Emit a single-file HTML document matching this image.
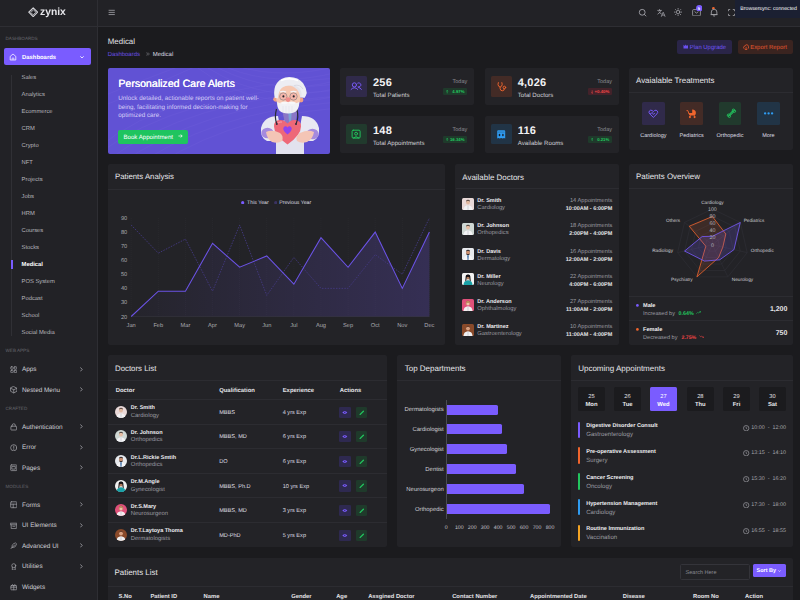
<!DOCTYPE html>
<html><head><meta charset="utf-8"><title>Zynix - Medical</title>
<style>
*{box-sizing:border-box;margin:0;padding:0}
html,body{width:800px;height:600px;overflow:hidden;background:#1b1b1e;font-family:"Liberation Sans",sans-serif;color:#e6e6ea}
.abs{position:absolute}
.t{position:absolute;white-space:nowrap;line-height:1;text-rendering:geometricPrecision}
</style></head>
<body>
<div class="abs" style="left:0.00px;top:0.00px;width:98.00px;height:600.00px;background:#222226;border-right:1px solid #2e2e33;"></div><div class="abs" style="left:0.00px;top:0.00px;width:97.00px;height:27.00px;background:#222226;border-bottom:1px solid #2e2e33;"></div><div class="abs" style="left:98.00px;top:0.00px;width:702.00px;height:27.00px;background:#222226;border-bottom:1px solid #2e2e33;"></div><svg class="abs" style="left:27.70px;top:7.20px;will-change:transform;" width="10.4" height="10.4" viewBox="0 0 12 12">
<g fill="none" stroke-linejoin="round">
<path d="M6 0.9 L11.1 6 L6 11.1 L0.9 6Z" stroke="#d6d6da" stroke-width="1.3"/>
<path d="M6 2.9 L9.1 6 L6 9.1 L2.9 6Z" stroke="#c4c4c8" stroke-width="1.0"/>
<path d="M3.6 3.6 L8.4 8.4 M8.4 3.6 L3.6 8.4" stroke="#9c9ca2" stroke-width="0.5"/>
</g>
<path d="M6 4.6 L7.4 6 L6 7.4 L4.6 6Z" fill="#141418"/>
</svg><div class="t" style="top:8px;font-size:10.3px;color:#e6e6ea;font-weight:700;left:40.30px;will-change:transform;">zynix</div><div class="t" style="top:37px;font-size:4.6px;color:#66666c;left:5.50px;">DASHBOARDS</div><div class="abs" style="left:4.00px;top:48.00px;width:87.00px;height:17.40px;background:#7a5cff;border-radius:2px;"></div><svg class="abs" style="left:9.10px;top:53.20px;" width="8" height="8" viewBox="0 0 8 8"><path d="M1.2 3.4 L4 1 L6.8 3.4 V7 H1.2 Z" fill="none" stroke="#fff" stroke-width="0.75" stroke-linejoin="round"/><path d="M3.2 7 V5 H4.8 V7" fill="none" stroke="#fff" stroke-width="0.6"/></svg><div class="t" style="top:56px;font-size:5.9px;color:#ffffff;font-weight:700;left:22.00px;">Dashboards</div><svg class="abs" style="left:80.00px;top:55.80px;" width="4" height="3" viewBox="0 0 4 3"><path d="M0.6 0.6 L2 2.0 L3.4 0.6" fill="none" stroke="#fff" stroke-width="0.8" stroke-linecap="round"/></svg><div class="abs" style="left:11.30px;top:74.50px;width:0.80px;height:261.00px;background:#303035;"></div><div class="abs" style="left:11.00px;top:260.00px;width:2.00px;height:8.80px;background:#7a5cff;"></div><div class="t" style="top:76px;font-size:5.8px;color:#b6b6bc;left:21.60px;">Sales</div><div class="t" style="top:93px;font-size:5.8px;color:#b6b6bc;left:21.60px;">Analytics</div><div class="t" style="top:110px;font-size:5.8px;color:#b6b6bc;left:21.60px;">Ecommerce</div><div class="t" style="top:127px;font-size:5.8px;color:#b6b6bc;left:21.60px;">CRM</div><div class="t" style="top:144px;font-size:5.8px;color:#b6b6bc;left:21.60px;">Crypto</div><div class="t" style="top:161px;font-size:5.8px;color:#b6b6bc;left:21.60px;">NFT</div><div class="t" style="top:178px;font-size:5.8px;color:#b6b6bc;left:21.60px;">Projects</div><div class="t" style="top:195px;font-size:5.8px;color:#b6b6bc;left:21.60px;">Jobs</div><div class="t" style="top:212px;font-size:5.8px;color:#b6b6bc;left:21.60px;">HRM</div><div class="t" style="top:229px;font-size:5.8px;color:#b6b6bc;left:21.60px;">Courses</div><div class="t" style="top:246px;font-size:5.8px;color:#b6b6bc;left:21.60px;">Stocks</div><div class="t" style="top:263px;font-size:5.8px;color:#ffffff;font-weight:700;left:21.60px;">Medical</div><div class="t" style="top:280px;font-size:5.8px;color:#b6b6bc;left:21.60px;">POS System</div><div class="t" style="top:297px;font-size:5.8px;color:#b6b6bc;left:21.60px;">Podcast</div><div class="t" style="top:314px;font-size:5.8px;color:#b6b6bc;left:21.60px;">School</div><div class="t" style="top:331px;font-size:5.8px;color:#b6b6bc;left:21.60px;">Social Media</div><div class="t" style="top:349px;font-size:4.6px;color:#66666c;left:5.50px;">WEB APPS</div><svg class="abs" style="left:9.50px;top:365.70px;" width="7.5" height="7.5" viewBox="0 0 7.5 7.5"><g fill="none" stroke="#9d9da3" stroke-width="0.75" stroke-linecap="round" stroke-linejoin="round"><rect x="0.8" y="0.8" width="2.4" height="2.4" rx="0.5"/><rect x="4.3" y="0.8" width="2.4" height="2.4" rx="0.5"/><rect x="0.8" y="4.3" width="2.4" height="2.4" rx="0.5"/><rect x="4.3" y="4.3" width="2.4" height="2.4" rx="0.5"/></g></svg><div class="t" style="top:367px;font-size:6.4px;color:#cdcdd3;left:22.00px;">Apps</div><svg class="abs" style="left:80.20px;top:366.70px;" width="3" height="5" viewBox="0 0 3 5"><path d="M0.6 0.7 L2.2 2.4 L0.6 4.1" fill="none" stroke="#a8a8ae" stroke-width="0.8" stroke-linecap="round"/></svg><svg class="abs" style="left:9.50px;top:386.20px;" width="7.5" height="7.5" viewBox="0 0 7.5 7.5"><g fill="none" stroke="#9d9da3" stroke-width="0.75" stroke-linecap="round" stroke-linejoin="round"><path d="M3.75 0.6 L6.9 2.2 V5.3 L3.75 6.9 L0.6 5.3 V2.2Z"/><path d="M0.6 2.2 L3.75 3.8 L6.9 2.2 M3.75 3.8 V6.9"/></g></svg><div class="t" style="top:388px;font-size:6.4px;color:#cdcdd3;left:22.00px;">Nested Menu</div><svg class="abs" style="left:80.20px;top:387.20px;" width="3" height="5" viewBox="0 0 3 5"><path d="M0.6 0.7 L2.2 2.4 L0.6 4.1" fill="none" stroke="#a8a8ae" stroke-width="0.8" stroke-linecap="round"/></svg><div class="t" style="top:407px;font-size:4.6px;color:#66666c;left:5.50px;">CRAFTED</div><svg class="abs" style="left:9.50px;top:423.40px;" width="7.5" height="7.5" viewBox="0 0 7.5 7.5"><g fill="none" stroke="#9d9da3" stroke-width="0.75" stroke-linecap="round" stroke-linejoin="round"><rect x="0.9" y="3.2" width="5.7" height="3.8" rx="0.5"/><path d="M2.2 3.2 V2.3 A1.55 1.55 0 0 1 5.3 2.3 V3.2"/></g></svg><div class="t" style="top:425px;font-size:6.4px;color:#cdcdd3;left:22.00px;">Authentication</div><svg class="abs" style="left:80.20px;top:424.40px;" width="3" height="5" viewBox="0 0 3 5"><path d="M0.6 0.7 L2.2 2.4 L0.6 4.1" fill="none" stroke="#a8a8ae" stroke-width="0.8" stroke-linecap="round"/></svg><svg class="abs" style="left:9.50px;top:443.80px;" width="7.5" height="7.5" viewBox="0 0 7.5 7.5"><g fill="none" stroke="#9d9da3" stroke-width="0.75" stroke-linecap="round" stroke-linejoin="round"><circle cx="3.75" cy="3.75" r="3.1"/><path d="M3.75 2 V4.1 M3.75 5.1 V5.4"/></g></svg><div class="t" style="top:445px;font-size:6.4px;color:#cdcdd3;left:22.00px;">Error</div><svg class="abs" style="left:80.20px;top:444.80px;" width="3" height="5" viewBox="0 0 3 5"><path d="M0.6 0.7 L2.2 2.4 L0.6 4.1" fill="none" stroke="#a8a8ae" stroke-width="0.8" stroke-linecap="round"/></svg><svg class="abs" style="left:9.50px;top:464.00px;" width="7.5" height="7.5" viewBox="0 0 7.5 7.5"><g fill="none" stroke="#9d9da3" stroke-width="0.75" stroke-linecap="round" stroke-linejoin="round"><rect x="0.7" y="0.9" width="6.1" height="5.7" rx="0.6"/><rect x="2.2" y="2.4" width="3.1" height="2.7"/></g></svg><div class="t" style="top:466px;font-size:6.4px;color:#cdcdd3;left:22.00px;">Pages</div><svg class="abs" style="left:80.20px;top:465.00px;" width="3" height="5" viewBox="0 0 3 5"><path d="M0.6 0.7 L2.2 2.4 L0.6 4.1" fill="none" stroke="#a8a8ae" stroke-width="0.8" stroke-linecap="round"/></svg><div class="t" style="top:485px;font-size:4.6px;color:#66666c;left:5.50px;">MODULES</div><svg class="abs" style="left:9.50px;top:501.40px;" width="7.5" height="7.5" viewBox="0 0 7.5 7.5"><g fill="none" stroke="#9d9da3" stroke-width="0.75" stroke-linecap="round" stroke-linejoin="round"><rect x="0.7" y="0.8" width="6.1" height="5.9" rx="0.6"/><path d="M0.7 3.2 H6.8 M3.2 3.2 V6.7"/></g></svg><div class="t" style="top:503px;font-size:6.4px;color:#cdcdd3;left:22.00px;">Forms</div><svg class="abs" style="left:80.20px;top:502.40px;" width="3" height="5" viewBox="0 0 3 5"><path d="M0.6 0.7 L2.2 2.4 L0.6 4.1" fill="none" stroke="#a8a8ae" stroke-width="0.8" stroke-linecap="round"/></svg><svg class="abs" style="left:9.50px;top:521.70px;" width="7.5" height="7.5" viewBox="0 0 7.5 7.5"><g fill="none" stroke="#9d9da3" stroke-width="0.75" stroke-linecap="round" stroke-linejoin="round"><path d="M0.7 1.2 H6.8 V2.8 H0.7Z M1.2 2.8 V6.6 H6.3 V2.8 M2.8 4.3 H4.7"/></g></svg><div class="t" style="top:523px;font-size:6.4px;color:#cdcdd3;left:22.00px;">UI Elements</div><svg class="abs" style="left:80.20px;top:522.70px;" width="3" height="5" viewBox="0 0 3 5"><path d="M0.6 0.7 L2.2 2.4 L0.6 4.1" fill="none" stroke="#a8a8ae" stroke-width="0.8" stroke-linecap="round"/></svg><svg class="abs" style="left:9.50px;top:542.20px;" width="7.5" height="7.5" viewBox="0 0 7.5 7.5"><g fill="none" stroke="#9d9da3" stroke-width="0.75" stroke-linecap="round" stroke-linejoin="round"><path d="M1 6.6 L4.8 2.8 M2 5 Q1.5 2 5.5 0.9 Q6.9 1.5 6.4 2.6 Q5.6 6 2 5.6"/></g></svg><div class="t" style="top:544px;font-size:6.4px;color:#cdcdd3;left:22.00px;">Advanced UI</div><svg class="abs" style="left:80.20px;top:543.20px;" width="3" height="5" viewBox="0 0 3 5"><path d="M0.6 0.7 L2.2 2.4 L0.6 4.1" fill="none" stroke="#a8a8ae" stroke-width="0.8" stroke-linecap="round"/></svg><svg class="abs" style="left:9.50px;top:562.80px;" width="7.5" height="7.5" viewBox="0 0 7.5 7.5"><g fill="none" stroke="#9d9da3" stroke-width="0.75" stroke-linecap="round" stroke-linejoin="round"><circle cx="3.75" cy="2.7" r="2"/><path d="M2.3 4.2 V7 H5.2 V4.2"/></g></svg><div class="t" style="top:564px;font-size:6.4px;color:#cdcdd3;left:22.00px;">Utilities</div><svg class="abs" style="left:80.20px;top:563.80px;" width="3" height="5" viewBox="0 0 3 5"><path d="M0.6 0.7 L2.2 2.4 L0.6 4.1" fill="none" stroke="#a8a8ae" stroke-width="0.8" stroke-linecap="round"/></svg><svg class="abs" style="left:9.50px;top:583.30px;" width="7.5" height="7.5" viewBox="0 0 7.5 7.5"><g fill="none" stroke="#9d9da3" stroke-width="0.75" stroke-linecap="round" stroke-linejoin="round"><rect x="0.9" y="2.6" width="5.8" height="4.2" rx="0.4"/><path d="M0.9 4.2 H6.7 M3.75 2.6 V6.8 M3.75 2.6 Q2 0.2 1.9 2.4 M3.75 2.6 Q5.5 0.2 5.6 2.4"/></g></svg><div class="t" style="top:585px;font-size:6.4px;color:#cdcdd3;left:22.00px;">Widgets</div><svg class="abs" style="left:108.00px;top:9.00px;" width="8" height="7" viewBox="0 0 8 7"><path d="M0.6 1.3 H6.8 M0.6 3.4 H6.8 M0.6 5.55 H6.8" stroke="#a3a3a9" stroke-width="0.8" fill="none"/></svg><svg class="abs" style="left:638.00px;top:7.50px;" width="9" height="9" viewBox="0 0 9 9"><circle cx="4.2" cy="4.3" r="2.9" fill="none" stroke="#a3a3a9" stroke-width="0.9"/><path d="M6.3 6.4 L7.9 8" stroke="#a3a3a9" stroke-width="0.9" stroke-linecap="round"/></svg><svg class="abs" style="left:656.50px;top:8.50px;" width="9" height="8" viewBox="0 0 9 8"><g fill="none" stroke="#a3a3a9" stroke-width="0.75" stroke-linecap="round" stroke-linejoin="round"><path d="M0.7 1.4 H4.4 M2.5 0.5 V1.4 M3.9 1.4 Q3.2 4 0.9 5.1 M1.9 2.9 Q2.8 4.3 4.3 4.8"/><path d="M4.4 7.4 L6.2 3.2 L8 7.4 M5 6.1 H7.4"/></g></svg><svg class="abs" style="left:674.30px;top:7.90px;" width="8.2" height="8.2" viewBox="0 0 8.2 8.2"><g fill="none" stroke="#a3a3a9" stroke-width="0.8" stroke-linecap="round"><circle cx="4.1" cy="4.1" r="1.7"/><path d="M4.1 0.4 V1.2 M4.1 7 V7.8 M0.4 4.1 H1.2 M7 4.1 H7.8 M1.5 1.5 L2.1 2.1 M6.1 6.1 L6.7 6.7 M1.5 6.7 L2.1 6.1 M6.1 2.1 L6.7 1.5"/></g></svg><svg class="abs" style="left:691.50px;top:8.50px;" width="9" height="7.5" viewBox="0 0 9 7.5"><g fill="none" stroke="#a3a3a9" stroke-width="0.8" stroke-linejoin="round"><rect x="0.6" y="0.6" width="7.8" height="6.3" rx="1"/><path d="M2.6 2.6 L4.5 4.1 L6.4 2.6"/></g></svg><svg class="abs" style="left:695.60px;top:4.60px;" width="6.6" height="6.6" viewBox="0 0 6.6 6.6"><circle cx="3.3" cy="3.3" r="3.2" fill="#7a5cff"/></svg><div class="t" style="top:7px;font-size:4.2px;color:#ffffff;font-weight:700;left:638.90px;width:120px;text-align:center;">5</div><svg class="abs" style="left:709.60px;top:7.50px;" width="8.2" height="9" viewBox="0 0 8.2 9"><g fill="none" stroke="#a3a3a9" stroke-width="0.85" stroke-linejoin="round"><path d="M1.3 6.6 V4 Q1.3 1.3 4.1 1.3 Q6.9 1.3 6.9 4 V6.6 Z M0.6 6.6 H7.6"/><path d="M3.1 7.7 Q4.1 8.6 5.1 7.7"/></g></svg><svg class="abs" style="left:712.20px;top:6.60px;" width="2.8" height="2.8" viewBox="0 0 2.8 2.8"><circle cx="1.4" cy="1.4" r="1.35" fill="#f0652d"/></svg><svg class="abs" style="left:727.50px;top:8.60px;" width="7" height="7" viewBox="0 0 7 7"><path d="M0.5 2.2 V0.5 H2.2 M4.8 0.5 H6.5 V2.2 M6.5 4.8 V6.5 H4.8 M2.2 6.5 H0.5 V4.8" fill="none" stroke="#a3a3a9" stroke-width="0.8"/></svg><div class="abs" style="left:734.70px;top:0.00px;width:65.30px;height:17.60px;background:#1B2032;border-bottom-left-radius:2px;"></div><div class="t" style="top:7px;font-size:5.2px;color:#ffffff;left:708.60px;width:120px;text-align:center;">Browsersync: connected</div><div class="t" style="top:38px;font-size:7.9px;color:#e2e2e6;left:107.80px;">Medical</div><div class="t" style="top:52px;font-size:5.98px;color:#6a4fe8;left:107.80px;">Dashboards</div><svg class="abs" style="left:145.50px;top:51.60px;" width="4" height="4" viewBox="0 0 4 4"><path d="M0.4 0.5 L1.7 2 L0.4 3.5 M2 0.5 L3.3 2 L2 3.5" fill="none" stroke="#8e8e95" stroke-width="0.55"/></svg><div class="t" style="top:52px;font-size:5.98px;color:#dcdce0;left:152.70px;">Medical</div><div class="abs" style="left:677.30px;top:40.20px;width:55.00px;height:13.80px;background:#2a2548;border-radius:2px;"></div><svg class="abs" style="left:682.70px;top:44.30px;" width="5.6" height="5.2" viewBox="0 0 5.6 5.2"><path d="M0.5 0.8 L1.8 2 L2.8 0.5 L3.8 2 L5.1 0.8 V4.6 H0.5Z" fill="#6a50f0"/></svg><div class="t" style="top:46px;font-size:5.95px;color:#6d53f2;left:689.80px;">Plan Upgrade</div><div class="abs" style="left:737.50px;top:40.20px;width:55.30px;height:13.80px;background:#3a2420;border-radius:2px;"></div><svg class="abs" style="left:742.80px;top:43.60px;" width="6.2" height="6.6" viewBox="0 0 6.2 6.6"><g fill="none" stroke="#e4572e" stroke-width="0.8"><path d="M1.6 4.9 Q0.4 4.6 0.5 3.3 Q0.7 2 2 2.1 Q2.4 0.5 3.9 0.7 Q5.6 1 5.5 2.9 Q5.9 4.6 4.6 4.9"/><path d="M3.1 2.8 V6 M2 4.9 L3.1 6 L4.2 4.9"/></g></svg><div class="t" style="top:46px;font-size:5.95px;color:#e4572e;left:750.20px;">Export Report</div><div class="abs" style="left:107.8px;top:67.8px;width:222px;height:86px;border-radius:2px;overflow:hidden;background:#6253d4">
<svg class="abs" style="left:0;top:0" width="222" height="86" viewBox="0 0 222 86"><g fill="none" stroke="#6e60dc" stroke-width="0.5" opacity="0.7">
<path d="M-10 80 Q60 20 230 10"/><path d="M-10 86 Q70 26 230 16"/><path d="M0 92 Q80 32 230 22"/><path d="M10 98 Q90 38 230 28"/>
<path d="M20 104 Q100 44 230 34"/><path d="M30 110 Q110 50 230 40"/><path d="M120 0 Q170 20 230 4"/><path d="M110 0 Q170 30 230 12"/><path d="M100 0 Q160 38 230 20"/><path d="M128 -2 Q175 12 230 -2"/><path d="M90 0 Q150 46 230 28"/><path d="M-10 30 Q40 10 80 -5"/><path d="M-10 40 Q50 16 95 -5"/>
</g></svg></div><div class="t" style="top:79px;font-size:10.6px;color:#ffffff;left:118.20px;text-shadow:0.25px 0 0 #fff;">Personalized Care Alerts</div><div class="t" style="top:96px;font-size:6.3px;color:#d4cdf7;left:118.20px;">Unlock detailed, actionable reports on patient well-</div><div class="t" style="top:105px;font-size:6.3px;color:#d4cdf7;left:118.20px;">being, facilitating informed decision-making for</div><div class="t" style="top:113px;font-size:6.3px;color:#d4cdf7;left:118.20px;">optimized care.</div><div class="abs" style="left:118.00px;top:129.80px;width:70.00px;height:13.90px;background:#1fc45f;border-radius:2px;"></div><div class="t" style="top:135px;font-size:6.1px;color:#ffffff;left:123.50px;">Book Appointment</div><svg class="abs" style="left:177.60px;top:134.30px;" width="5" height="4" viewBox="0 0 5 4"><path d="M0.4 2 H4.2 M2.6 0.5 L4.2 2 L2.6 3.5" fill="none" stroke="#fff" stroke-width="0.7"/></svg><svg class="abs" style="left:258.00px;top:72.00px;" width="64" height="82" viewBox="0 0 64 82">
<path d="M18 82 L18 66 Q18 49 30 47 L34 47 Q46 49 46 66 L46 82Z" fill="#e2e2ee"/>
<path d="M20 44 Q6 44 3 56 Q2 66 9 69 L20 69 L22 55 Z" fill="#e8e8f2"/>
<path d="M44 44 Q58 44 61 56 Q62 66 55 69 L44 69 L42 55 Z" fill="#e8e8f2"/>
<ellipse cx="9.5" cy="61" rx="6.2" ry="5.3" fill="#a58ade"/>
<ellipse cx="54.5" cy="62" rx="6.2" ry="5.3" fill="#a58ade"/>
<path d="M24 37 L40 37 L37 52 L27 52Z" fill="#8a76c6"/>
<path d="M30.3 40 L33.7 40 L33 50 L31 50Z" fill="#7aa2d6"/>
<path d="M29.5 72.5 Q16 63 16 54.5 Q16 47.6 22.5 48 Q27 48.4 29.5 51.6 Q32 48.4 36.5 48 Q43 47.6 43 54.5 Q43 63 29.5 72.5Z" fill="#ee6878"/>
<path d="M20 51 Q22 49.5 24 50" stroke="#f7a0aa" stroke-width="1" fill="none"/>
<path d="M29.5 62.5 Q25 59 25.3 56.3 Q25.8 53.8 28 54.2 Q29 54.5 29.5 55.5 Q30 54.5 31 54.2 Q33.2 53.8 33.7 56.3 Q34 59 29.5 62.5Z" fill="#8e44ee"/>
<path d="M8 60 Q14 57 22 61 Q26 64 24 69 Q20 72 14 70 Q9 67 8 60Z" fill="#f4c5b6"/>
<path d="M56 60 Q50 57 42 61 Q37 64 39 69 Q43 72 49 70 Q55 67 56 60Z" fill="#f4c5b6"/>
<path d="M18.5 37 Q16.3 45 18.6 51.5" stroke="#2b2b38" stroke-width="1.2" fill="none"/>
<path d="M38.8 37 Q41 45 38.2 51.5" stroke="#2b2b38" stroke-width="1.2" fill="none"/>
<circle cx="18.8" cy="52" r="1" fill="#2b2b38"/><circle cx="38" cy="52" r="1" fill="#2b2b38"/>
<circle cx="17.6" cy="27.3" r="2.4" fill="#ef9f86"/>
<circle cx="43" cy="28" r="2.4" fill="#ef9f86"/>
<path d="M16.8 26 Q14.5 10 30 6 Q46 7 46.8 25.5 Z" fill="#e4e4ec"/>
<ellipse cx="30.2" cy="26.5" rx="12" ry="13" fill="#f6c7b1"/>
<path d="M16.8 25.5 Q15 16 19 11 Q23 5.5 31 5 Q40 4.8 45 11 Q48.5 16 48.8 21 Q48 24 46.5 25.8 L43.6 25 Q44 19.5 41.5 16.5 Q38 13 33 13.2 Q27 13.5 24 15.8 Q21 18 19.8 26.5Z" fill="#ededf3"/>
<path d="M23 8.5 Q31 5 40 8.5" stroke="#ffffff" stroke-width="1.4" fill="none"/><path d="M36 13.5 Q42 12 45 17" stroke="#d4d4de" stroke-width="0.8" fill="none"/>
<path d="M19.2 30 Q18.5 41.5 30.2 41.5 Q41.5 41.5 41.2 30 Q36 33 30.2 31.5 Q24.5 33 19.2 30Z" fill="#f1f1f5"/>
<path d="M25 34 V40 M28 34 V41 M31 34 V41 M34 34 V40" stroke="#dcdce4" stroke-width="0.4"/>
<circle cx="25.3" cy="24.5" r="3.7" fill="#f6b6aa" stroke="#8e8384" stroke-width="0.7"/>
<circle cx="35.5" cy="24.5" r="3.7" fill="#f6b6aa" stroke="#8e8384" stroke-width="0.7"/>
<path d="M22 20 Q25 18.6 28 20 M32.5 20 Q35.5 18.6 38.5 20" stroke="#f4f4f8" stroke-width="1.3" fill="none"/>
<circle cx="25.4" cy="24.4" r="1.05" fill="#22222c"/>
<circle cx="35.7" cy="24.4" r="1.05" fill="#22222c"/>
<ellipse cx="30" cy="27.6" rx="2.5" ry="2.3" fill="#f08c8a"/>
<path d="M21.5 31.3 Q25.5 28.3 30.2 30.2 Q34.8 28.3 39 31.3 Q34.8 33 30.2 31.8 Q25.5 33 21.5 31.3Z" fill="#f7f7f9"/>
</svg><div class="abs" style="left:340.00px;top:67.60px;width:134.00px;height:37.80px;background:#232327;border-radius:2px;"></div><div class="abs" style="left:346.20px;top:76.30px;width:20.50px;height:20.30px;background:#302a4a;border-radius:1.5px;"></div><svg class="abs" style="left:346.20px;top:76.30px;" width="20.5" height="20.3" viewBox="0 0 20.5 20.3"><g fill="none" stroke="#7a5cff" stroke-width="0.95" stroke-linecap="round"><circle cx="8.4" cy="8.9" r="2.1"/><path d="M11.7 7.1 A2.1 2.1 0 1 1 12.1 10.9"/><path d="M5.1 13.4 Q8.4 9.9 11.7 13.4"/><path d="M12.6 11.4 Q14.4 11.6 15.4 13.4"/></g></svg><div class="t" style="top:78px;font-size:11.0px;color:#f2f2f4;font-weight:700;letter-spacing:0.2px;left:373.00px;">256</div><div class="t" style="top:93px;font-size:6.1px;color:#cfcfd4;left:373.00px;">Total Patients</div><div class="t" style="top:80px;font-size:5.5px;color:#8c8c93;right:332.80px;">Today</div><div class="abs" style="left:443.00px;top:88.00px;width:24.20px;height:7.40px;background:#1f3a2b;border-radius:1px;"></div><svg class="abs" style="left:446.20px;top:89.90px;" width="2.4" height="3.7" viewBox="0 0 2.4 3.7"><path d="M1.2 0.3 V3.4 M0.2 1.3 L1.2 0.3 L2.2 1.3" fill="none" stroke="#22c55e" stroke-width="0.55"/></svg><div class="t" style="top:90px;font-size:4.3px;color:#22c55e;font-weight:700;right:335.50px;">4.97%</div><div class="abs" style="left:484.80px;top:67.60px;width:134.00px;height:37.80px;background:#232327;border-radius:2px;"></div><div class="abs" style="left:491.00px;top:76.30px;width:20.50px;height:20.30px;background:#432b26;border-radius:1.5px;"></div><svg class="abs" style="left:491.00px;top:76.30px;" width="20.5" height="20.3" viewBox="0 0 20.5 20.3"><g fill="none" stroke="#f0652d" stroke-width="0.95" stroke-linecap="round"><path d="M7.3 6.6 Q6.5 8.6 7.6 10.2 Q9.1 11.9 10.6 10.2 Q11.7 8.6 10.9 6.6"/><path d="M9.1 11.3 V12.6 Q9.3 14.8 11.3 14.8 Q13.4 14.8 13.4 12.9"/><circle cx="13.4" cy="11.5" r="1.3"/></g></svg><div class="t" style="top:78px;font-size:11.0px;color:#f2f2f4;font-weight:700;letter-spacing:0.2px;left:517.80px;">4,026</div><div class="t" style="top:93px;font-size:6.1px;color:#cfcfd4;left:517.80px;">Total Doctors</div><div class="t" style="top:80px;font-size:5.5px;color:#8c8c93;right:188.00px;">Today</div><div class="abs" style="left:587.80px;top:88.00px;width:24.20px;height:7.40px;background:#43222a;border-radius:1px;"></div><svg class="abs" style="left:591.00px;top:89.90px;" width="2.4" height="3.7" viewBox="0 0 2.4 3.7"><path d="M1.2 0.3 V3.4 M0.2 2.4 L1.2 3.4 L2.2 2.4" fill="none" stroke="#ef4444" stroke-width="0.55"/></svg><div class="t" style="top:90px;font-size:4.3px;color:#ef4444;font-weight:700;right:190.70px;">+0.40%</div><div class="abs" style="left:340.00px;top:115.50px;width:134.00px;height:37.80px;background:#232327;border-radius:2px;"></div><div class="abs" style="left:346.20px;top:124.20px;width:20.50px;height:20.30px;background:#213a2d;border-radius:1.5px;"></div><svg class="abs" style="left:346.20px;top:124.20px;" width="20.5" height="20.3" viewBox="0 0 20.5 20.3"><g fill="none" stroke="#22c55e" stroke-width="0.95" stroke-linecap="round"><rect x="6.1" y="6.2" width="8" height="7.9" rx="1.1"/><circle cx="10.1" cy="9.7" r="1.45"/><path d="M7.3 13.9 Q10.1 11.2 12.9 13.9"/></g></svg><div class="t" style="top:126px;font-size:11.0px;color:#f2f2f4;font-weight:700;letter-spacing:0.2px;left:373.00px;">148</div><div class="t" style="top:141px;font-size:6.1px;color:#cfcfd4;left:373.00px;">Total Appointments</div><div class="t" style="top:128px;font-size:5.5px;color:#8c8c93;right:332.80px;">Today</div><div class="abs" style="left:443.00px;top:135.90px;width:24.20px;height:7.40px;background:#1f3a2b;border-radius:1px;"></div><svg class="abs" style="left:446.20px;top:137.80px;" width="2.4" height="3.7" viewBox="0 0 2.4 3.7"><path d="M1.2 0.3 V3.4 M0.2 1.3 L1.2 0.3 L2.2 1.3" fill="none" stroke="#22c55e" stroke-width="0.55"/></svg><div class="t" style="top:138px;font-size:4.3px;color:#22c55e;font-weight:700;right:335.50px;">16.34%</div><div class="abs" style="left:484.80px;top:115.50px;width:134.00px;height:37.80px;background:#232327;border-radius:2px;"></div><div class="abs" style="left:491.00px;top:124.20px;width:20.50px;height:20.30px;background:#213446;border-radius:1.5px;"></div><svg class="abs" style="left:491.00px;top:124.20px;" width="20.5" height="20.3" viewBox="0 0 20.5 20.3"><path d="M6.2 7.2 Q6.2 6.2 7.2 6.2 H13.2 Q14.2 6.2 14.2 7.2 V14.4 L13 13.9 L11.8 14.4 L10.2 13.9 L8.6 14.4 L7.4 13.9 L6.2 14.4Z" fill="#2f9cf2"/><path d="M6.8 8.1 H13.6" stroke="#213446" stroke-width="0.35"/><ellipse cx="8.5" cy="11" rx="0.8" ry="1.3" fill="#17222e"/><ellipse cx="11.9" cy="11" rx="0.8" ry="1.3" fill="#17222e"/></svg><div class="t" style="top:126px;font-size:11.0px;color:#f2f2f4;font-weight:700;letter-spacing:0.2px;left:517.80px;">116</div><div class="t" style="top:141px;font-size:6.1px;color:#cfcfd4;left:517.80px;">Available Rooms</div><div class="t" style="top:128px;font-size:5.5px;color:#8c8c93;right:188.00px;">Today</div><div class="abs" style="left:587.80px;top:135.90px;width:24.20px;height:7.40px;background:#1f3a2b;border-radius:1px;"></div><svg class="abs" style="left:591.00px;top:137.80px;" width="2.4" height="3.7" viewBox="0 0 2.4 3.7"><path d="M1.2 0.3 V3.4 M0.2 1.3 L1.2 0.3 L2.2 1.3" fill="none" stroke="#22c55e" stroke-width="0.55"/></svg><div class="t" style="top:138px;font-size:4.3px;color:#22c55e;font-weight:700;right:190.70px;">0.21%</div><div class="abs" style="left:629.00px;top:67.70px;width:164.00px;height:82.10px;background:#232327;border-radius:2px;"></div><div class="abs" style="left:629.00px;top:92.20px;width:164.00px;height:0.80px;background:#2c2c31;"></div><div class="t" style="top:77px;font-size:7.95px;color:#e6e6ea;left:636.00px;">Avaialable Treatments</div><div class="abs" style="left:642.00px;top:102.30px;width:22.80px;height:23.00px;background:#302a4a;border-radius:1.5px;"></div><svg class="abs" style="left:642.00px;top:102.30px;" width="22.8" height="23" viewBox="0 0 22.8 23"><path d="M11.35 15.4 L7.7 11.8 Q6.5 10.4 7.3 9.1 Q8.5 7.6 10.1 8.5 L11.35 9.6 L12.6 8.5 Q14.2 7.6 15.4 9.1 Q16.2 10.4 15 11.8 Z" fill="none" stroke="#7a5cff" stroke-width="0.95" stroke-linejoin="round"/><path d="M7.6 11.6 H9.3 L10.2 10.3 L11.3 12.6 L12.1 11.5 H13" fill="none" stroke="#7a5cff" stroke-width="0.75" stroke-linejoin="round"/></svg><div class="t" style="top:134px;font-size:5.5px;color:#dedee2;left:593.40px;width:120px;text-align:center;">Cardiology</div><div class="abs" style="left:680.30px;top:102.30px;width:22.80px;height:23.00px;background:#432b26;border-radius:1.5px;"></div><svg class="abs" style="left:680.30px;top:102.30px;" width="22.8" height="23" viewBox="0 0 22.8 23"><g fill="#f0652d"><path d="M12.2 7.4 A3.7 3.7 0 0 1 15.9 11.1 H12.2Z"/><path d="M8.6 11.1 H15.9 Q15.9 13.6 13 13.6 H11.3 Q8.6 13.6 8.6 11.1Z"/><circle cx="9.9" cy="15.1" r="1.05"/><circle cx="14.6" cy="15.1" r="1.05"/></g><path d="M8.8 11.3 L7.9 8.6 H6.9 M10.3 13.4 L9.9 14.4 M14.2 13.4 L14.6 14.4" fill="none" stroke="#f0652d" stroke-width="0.9" stroke-linecap="round"/></svg><div class="t" style="top:134px;font-size:5.5px;color:#dedee2;left:631.70px;width:120px;text-align:center;">Pediatrics</div><div class="abs" style="left:718.60px;top:102.30px;width:22.80px;height:23.00px;background:#213a2d;border-radius:1.5px;"></div><svg class="abs" style="left:718.60px;top:102.30px;" width="22.8" height="23" viewBox="0 0 22.8 23"><g fill="none" stroke="#22c55e" stroke-width="0.9"><path d="M10.6 13 L14.2 9.4"/><circle cx="9.4" cy="13.2" r="1.15"/><circle cx="10.4" cy="14.3" r="1.15"/><circle cx="14.4" cy="8.2" r="1.15"/><circle cx="15.5" cy="9.2" r="1.15"/></g><path d="M10.6 13 L14.2 9.4" stroke="#22c55e" stroke-width="2.2"/><path d="M10.9 12.7 L13.9 9.7" stroke="#213a2d" stroke-width="0.5"/></svg><div class="t" style="top:134px;font-size:5.5px;color:#dedee2;left:670.00px;width:120px;text-align:center;">Orthopedic</div><div class="abs" style="left:757.00px;top:102.30px;width:22.80px;height:23.00px;background:#213446;border-radius:1.5px;"></div><svg class="abs" style="left:757.00px;top:102.30px;" width="22.8" height="23" viewBox="0 0 22.8 23"><g fill="#2f9cf2"><circle cx="8.1" cy="11.4" r="1.15"/><circle cx="11.6" cy="11.4" r="1.15"/><circle cx="15.1" cy="11.4" r="1.15"/></g></svg><div class="t" style="top:134px;font-size:5.5px;color:#dedee2;left:708.40px;width:120px;text-align:center;">More</div><div class="abs" style="left:108.00px;top:163.60px;width:336.70px;height:181.50px;background:#232327;border-radius:2px;"></div><div class="abs" style="left:108.00px;top:189.30px;width:336.50px;height:0.80px;background:#2c2c31;"></div><div class="t" style="top:173px;font-size:7.8px;color:#e6e6ea;left:115.00px;">Patients Analysis</div><svg class="abs" style="left:241.30px;top:201.00px;" width="3.4" height="3.4" viewBox="0 0 3.4 3.4"><circle cx="1.7" cy="1.7" r="1.6" fill="#7a5cff"/></svg><div class="t" style="top:201px;font-size:5.2px;color:#dcdce0;left:247.10px;">This Year</div><svg class="abs" style="left:273.70px;top:201.00px;" width="3.4" height="3.4" viewBox="0 0 3.4 3.4"><circle cx="1.7" cy="1.7" r="1.6" fill="#3a3363"/></svg><div class="t" style="top:201px;font-size:5.2px;color:#dcdce0;left:279.20px;">Previous Year</div><div class="t" style="top:217px;font-size:5.7px;color:#a9a9af;right:672.80px;">90</div><div class="t" style="top:231px;font-size:5.7px;color:#a9a9af;right:672.80px;">80</div><div class="t" style="top:245px;font-size:5.7px;color:#a9a9af;right:672.80px;">70</div><div class="t" style="top:259px;font-size:5.7px;color:#a9a9af;right:672.80px;">60</div><div class="t" style="top:273px;font-size:5.7px;color:#a9a9af;right:672.80px;">50</div><div class="t" style="top:287px;font-size:5.7px;color:#a9a9af;right:672.80px;">40</div><div class="t" style="top:301px;font-size:5.7px;color:#a9a9af;right:672.80px;">30</div><div class="t" style="top:316px;font-size:5.7px;color:#a9a9af;right:672.80px;">20</div><div class="t" style="top:324px;font-size:5.7px;color:#a9a9af;left:71.20px;width:120px;text-align:center;">Jan</div><div class="t" style="top:324px;font-size:5.7px;color:#a9a9af;left:98.31px;width:120px;text-align:center;">Feb</div><div class="t" style="top:324px;font-size:5.7px;color:#a9a9af;left:125.42px;width:120px;text-align:center;">Mar</div><div class="t" style="top:324px;font-size:5.7px;color:#a9a9af;left:152.53px;width:120px;text-align:center;">Apr</div><div class="t" style="top:324px;font-size:5.7px;color:#a9a9af;left:179.64px;width:120px;text-align:center;">May</div><div class="t" style="top:324px;font-size:5.7px;color:#a9a9af;left:206.75px;width:120px;text-align:center;">Jun</div><div class="t" style="top:324px;font-size:5.7px;color:#a9a9af;left:233.86px;width:120px;text-align:center;">Jul</div><div class="t" style="top:324px;font-size:5.7px;color:#a9a9af;left:260.97px;width:120px;text-align:center;">Aug</div><div class="t" style="top:324px;font-size:5.7px;color:#a9a9af;left:288.08px;width:120px;text-align:center;">Sep</div><div class="t" style="top:324px;font-size:5.7px;color:#a9a9af;left:315.19px;width:120px;text-align:center;">Oct</div><div class="t" style="top:324px;font-size:5.7px;color:#a9a9af;left:342.30px;width:120px;text-align:center;">Nov</div><div class="t" style="top:324px;font-size:5.7px;color:#a9a9af;left:369.41px;width:120px;text-align:center;">Dec</div><svg class="abs" style="left:108.00px;top:164.00px;" width="337" height="181" viewBox="0 0 337 181">
<defs><linearGradient id="gf" x1="0" y1="0" x2="1" y2="0"><stop offset="0" stop-color="#7a5cff" stop-opacity="0.02"/><stop offset="1" stop-color="#7a5cff" stop-opacity="0.21"/></linearGradient></defs>
<path d="M23.20 54 V152.5" stroke="#2e2e34" stroke-width="0.5" stroke-dasharray="1 1"/><path d="M50.31 54 V152.5" stroke="#2e2e34" stroke-width="0.5" stroke-dasharray="1 1"/><path d="M77.42 54 V152.5" stroke="#2e2e34" stroke-width="0.5" stroke-dasharray="1 1"/><path d="M104.53 54 V152.5" stroke="#2e2e34" stroke-width="0.5" stroke-dasharray="1 1"/><path d="M131.64 54 V152.5" stroke="#2e2e34" stroke-width="0.5" stroke-dasharray="1 1"/><path d="M158.75 54 V152.5" stroke="#2e2e34" stroke-width="0.5" stroke-dasharray="1 1"/><path d="M185.86 54 V152.5" stroke="#2e2e34" stroke-width="0.5" stroke-dasharray="1 1"/><path d="M212.97 54 V152.5" stroke="#2e2e34" stroke-width="0.5" stroke-dasharray="1 1"/><path d="M240.08 54 V152.5" stroke="#2e2e34" stroke-width="0.5" stroke-dasharray="1 1"/><path d="M267.19 54 V152.5" stroke="#2e2e34" stroke-width="0.5" stroke-dasharray="1 1"/><path d="M294.30 54 V152.5" stroke="#2e2e34" stroke-width="0.5" stroke-dasharray="1 1"/><path d="M321.41 54 V152.5" stroke="#2e2e34" stroke-width="0.5" stroke-dasharray="1 1"/>
<path d="M23.20 152.50 H321.41" stroke="#38383e" stroke-width="0.5"/>
<polygon points="23.20,152.5 23.20,152.50 50.31,127.17 77.42,127.17 104.53,79.33 131.64,103.25 158.75,91.99 185.86,120.14 212.97,73.70 240.08,103.25 267.19,68.07 294.30,124.36 321.41,68.07 321.41,152.5" fill="url(#gf)"/>
<polyline points="23.20,61.04 50.31,89.18 77.42,75.11 104.53,127.17 131.64,61.04 158.75,131.39 185.86,93.40 212.97,124.36 240.08,124.36 267.19,90.59 294.30,110.29 321.41,54.00" fill="none" stroke="#41387c" stroke-width="0.95" stroke-dasharray="1.5 1.3"/>
<polyline points="23.20,152.50 50.31,127.17 77.42,127.17 104.53,79.33 131.64,103.25 158.75,91.99 185.86,120.14 212.97,73.70 240.08,103.25 267.19,68.07 294.30,124.36 321.41,68.07" fill="none" stroke="#6b53e6" stroke-width="1.05" stroke-linejoin="miter"/>
</svg><div class="abs" style="left:455.30px;top:163.60px;width:163.50px;height:181.40px;background:#232327;border-radius:2px;"></div><div class="abs" style="left:455.50px;top:188.20px;width:163.30px;height:0.80px;background:#2c2c31;"></div><div class="t" style="top:174px;font-size:7.95px;color:#e6e6ea;left:462.30px;">Available Doctors</div><svg class="abs" style="left:462.00px;top:197.80px;" width="12" height="12" viewBox="0 0 12 12"><defs><clipPath id="csmith462197"><rect width="12" height="12" rx="1.5"/></clipPath></defs>
<g clip-path="url(#csmith462197)"><rect width="12" height="12" fill="#e9d9d8"/>
<path d="M1.44 12 Q1.7999999999999998 7.4399999999999995 6.0 7.199999999999999 Q10.2 7.4399999999999995 10.56 12Z" fill="#f2f2f4"/>
<ellipse cx="6.0" cy="4.32" rx="1.92" ry="2.2800000000000002" fill="#e0b8a0"/>
<path d="M3.96 3.96 Q4.08 1.6800000000000002 6.0 1.7999999999999998 Q8.040000000000001 1.6800000000000002 8.040000000000001 3.96 Q7.199999999999999 2.64 6.0 2.7600000000000002 Q4.800000000000001 2.64 3.96 3.96Z" fill="#4a3a36"/>
<path d="M6.0 7.4399999999999995 V12" stroke="#9aa0aa" stroke-width="0.4"/></g></svg><div class="t" style="top:199px;font-size:5.5px;color:#ececf0;font-weight:700;left:477.30px;">Dr. Smith</div><div class="t" style="top:206px;font-size:5.8px;color:#9a9aa0;left:477.30px;">Cardiology</div><div class="t" style="top:199px;font-size:5.7px;color:#9a9aa0;right:187.70px;">14 Appointments</div><div class="t" style="top:207px;font-size:5.47px;color:#e4e4e8;font-weight:700;right:187.70px;">10:00AM - 6:00PM</div><svg class="abs" style="left:462.00px;top:223.00px;" width="12" height="12" viewBox="0 0 12 12"><defs><clipPath id="cjohnson462223"><rect width="12" height="12" rx="1.5"/></clipPath></defs>
<g clip-path="url(#cjohnson462223)"><rect width="12" height="12" fill="#cfd8d4"/>
<path d="M1.44 12 Q1.7999999999999998 7.4399999999999995 6.0 7.199999999999999 Q10.2 7.4399999999999995 10.56 12Z" fill="#f4f4f6"/>
<ellipse cx="6.0" cy="4.32" rx="1.92" ry="2.2800000000000002" fill="#e6bda3"/>
<path d="M3.96 3.96 Q4.08 1.6800000000000002 6.0 1.7999999999999998 Q8.040000000000001 1.6800000000000002 8.040000000000001 3.96 Q7.199999999999999 2.64 6.0 2.7600000000000002 Q4.800000000000001 2.64 3.96 3.96Z" fill="#3b3330"/>
<path d="M6.0 7.4399999999999995 V12" stroke="#9aa0aa" stroke-width="0.4"/></g></svg><div class="t" style="top:224px;font-size:5.5px;color:#ececf0;font-weight:700;left:477.30px;">Dr. Johnson</div><div class="t" style="top:231px;font-size:5.8px;color:#9a9aa0;left:477.30px;">Orthopedics</div><div class="t" style="top:224px;font-size:5.7px;color:#9a9aa0;right:187.70px;">18 Appointments</div><div class="t" style="top:232px;font-size:5.47px;color:#e4e4e8;font-weight:700;right:187.70px;">2:00PM - 4:00PM</div><svg class="abs" style="left:462.00px;top:248.20px;" width="12" height="12" viewBox="0 0 12 12"><defs><clipPath id="cdavis462248"><rect width="12" height="12" rx="1.5"/></clipPath></defs>
<g clip-path="url(#cdavis462248)"><rect width="12" height="12" fill="#e8eaee"/>
<path d="M1.44 12 Q1.7999999999999998 7.4399999999999995 6.0 7.199999999999999 Q10.2 7.4399999999999995 10.56 12Z" fill="#f5f5f7"/>
<ellipse cx="6.0" cy="4.32" rx="1.92" ry="2.2800000000000002" fill="#c98c6c"/>
<path d="M3.96 3.96 Q4.08 1.6800000000000002 6.0 1.7999999999999998 Q8.040000000000001 1.6800000000000002 8.040000000000001 3.96 Q7.199999999999999 2.64 6.0 2.7600000000000002 Q4.800000000000001 2.64 3.96 3.96Z" fill="#1d1d24"/>
<path d="M6.0 7.4399999999999995 V12" stroke="#9aa0aa" stroke-width="0.4"/><path d="M5.2 7.2 H6.8 L6.4 12 H5.6Z" fill="#3a6ea8"/><path d="M4.3 5.2 Q6 7.4 7.7 5.2 L7.6 6.4 Q6 7.6 4.4 6.4Z" fill="#2a2020"/></g></svg><div class="t" style="top:250px;font-size:5.5px;color:#ececf0;font-weight:700;left:477.30px;">Dr. Davis</div><div class="t" style="top:257px;font-size:5.8px;color:#9a9aa0;left:477.30px;">Dermatology</div><div class="t" style="top:250px;font-size:5.7px;color:#9a9aa0;right:187.70px;">16 Appointments</div><div class="t" style="top:258px;font-size:5.47px;color:#e4e4e8;font-weight:700;right:187.70px;">12:00AM - 2:00PM</div><svg class="abs" style="left:462.00px;top:273.40px;" width="12" height="12" viewBox="0 0 12 12"><defs><clipPath id="cmiller462273"><rect width="12" height="12" rx="1.5"/></clipPath></defs>
<g clip-path="url(#cmiller462273)"><rect width="12" height="12" fill="#f2f2f2"/>
<path d="M1.44 12 Q1.7999999999999998 7.4399999999999995 6.0 7.199999999999999 Q10.2 7.4399999999999995 10.56 12Z" fill="#1ba3a8"/>
<ellipse cx="6.0" cy="4.32" rx="1.92" ry="2.2800000000000002" fill="#b07a5a"/>
<path d="M3.96 3.96 Q4.08 1.6800000000000002 6.0 1.7999999999999998 Q8.040000000000001 1.6800000000000002 8.040000000000001 3.96 Q7.199999999999999 2.64 6.0 2.7600000000000002 Q4.800000000000001 2.64 3.96 3.96Z" fill="#121216"/>
<path d="M6.0 7.4399999999999995 V12" stroke="#9aa0aa" stroke-width="0.4"/><path d="M3.6 4.6 Q3.4 1.6 6 1.6 Q8.6 1.6 8.4 4.6 L8.8 8.2 L7.6 7.6 L7.4 4.2 Q6 3.2 4.6 4.2 L4.4 7.6 L3.2 8.2Z" fill="#141014"/><path d="M2.2 12 Q2.4 8 6 7.8 Q9.6 8 9.8 12Z" fill="#1aa0a6"/></g></svg><div class="t" style="top:275px;font-size:5.5px;color:#ececf0;font-weight:700;left:477.30px;">Dr. Miller</div><div class="t" style="top:282px;font-size:5.8px;color:#9a9aa0;left:477.30px;">Neurology</div><div class="t" style="top:275px;font-size:5.7px;color:#9a9aa0;right:187.70px;">22 Appointments</div><div class="t" style="top:283px;font-size:5.47px;color:#e4e4e8;font-weight:700;right:187.70px;">4:00PM - 6:00PM</div><svg class="abs" style="left:462.00px;top:298.60px;" width="12" height="12" viewBox="0 0 12 12"><defs><clipPath id="canderson462298"><rect width="12" height="12" rx="1.5"/></clipPath></defs>
<g clip-path="url(#canderson462298)"><rect width="12" height="12" fill="#e0507a"/>
<path d="M1.44 12 Q1.7999999999999998 7.4399999999999995 6.0 7.199999999999999 Q10.2 7.4399999999999995 10.56 12Z" fill="#f4eef0"/>
<ellipse cx="6.0" cy="4.32" rx="1.92" ry="2.2800000000000002" fill="#f0c0a8"/>
<path d="M3.96 3.96 Q4.08 1.6800000000000002 6.0 1.7999999999999998 Q8.040000000000001 1.6800000000000002 8.040000000000001 3.96 Q7.199999999999999 2.64 6.0 2.7600000000000002 Q4.800000000000001 2.64 3.96 3.96Z" fill="#6a3a2a"/>
<path d="M6.0 7.4399999999999995 V12" stroke="#9aa0aa" stroke-width="0.4"/><path d="M3.8 4.8 Q3.6 1.8 6 1.8 Q8.4 1.8 8.2 4.8 L8.3 6.2 L7.5 5.8 L7.4 4.2 Q6 3.4 4.6 4.2 L4.5 5.8 L3.7 6.2Z" fill="#c08860"/></g></svg><div class="t" style="top:300px;font-size:5.5px;color:#ececf0;font-weight:700;left:477.30px;">Dr. Anderson</div><div class="t" style="top:307px;font-size:5.8px;color:#9a9aa0;left:477.30px;">Ophthalmology</div><div class="t" style="top:300px;font-size:5.7px;color:#9a9aa0;right:187.70px;">27 Appointments</div><div class="t" style="top:308px;font-size:5.47px;color:#e4e4e8;font-weight:700;right:187.70px;">11:00AM - 2:00PM</div><svg class="abs" style="left:462.00px;top:323.80px;" width="12" height="12" viewBox="0 0 12 12"><defs><clipPath id="cmartinez462323"><rect width="12" height="12" rx="1.5"/></clipPath></defs>
<g clip-path="url(#cmartinez462323)"><rect width="12" height="12" fill="#8a4a2a"/>
<path d="M1.44 12 Q1.7999999999999998 7.4399999999999995 6.0 7.199999999999999 Q10.2 7.4399999999999995 10.56 12Z" fill="#f0f0f2"/>
<ellipse cx="6.0" cy="4.32" rx="1.92" ry="2.2800000000000002" fill="#d8a080"/>
<path d="M3.96 3.96 Q4.08 1.6800000000000002 6.0 1.7999999999999998 Q8.040000000000001 1.6800000000000002 8.040000000000001 3.96 Q7.199999999999999 2.64 6.0 2.7600000000000002 Q4.800000000000001 2.64 3.96 3.96Z" fill="#5a3020"/>
<path d="M6.0 7.4399999999999995 V12" stroke="#9aa0aa" stroke-width="0.4"/></g></svg><div class="t" style="top:325px;font-size:5.5px;color:#ececf0;font-weight:700;left:477.30px;">Dr. Martinez</div><div class="t" style="top:332px;font-size:5.8px;color:#9a9aa0;left:477.30px;">Gastroenterology</div><div class="t" style="top:325px;font-size:5.7px;color:#9a9aa0;right:187.70px;">10 Appointments</div><div class="t" style="top:333px;font-size:5.47px;color:#e4e4e8;font-weight:700;right:187.70px;">11:00AM - 4:00PM</div><div class="abs" style="left:629.00px;top:163.60px;width:164.00px;height:181.40px;background:#232327;border-radius:2px;"></div><div class="abs" style="left:629.00px;top:188.20px;width:164.00px;height:0.80px;background:#2c2c31;"></div><div class="t" style="top:173px;font-size:7.95px;color:#e6e6ea;left:636.00px;">Patients Overview</div><svg class="abs" style="left:629.00px;top:164.00px;" width="164" height="180" viewBox="0 0 164 180"><polygon points="83.40,73.56 88.98,76.25 90.36,82.29 86.50,87.13 80.30,87.13 76.44,82.29 77.82,76.25" fill="none" stroke="#33333a" stroke-width="0.5"/><polygon points="83.40,66.42 94.56,71.80 97.32,83.88 89.60,93.57 77.20,93.57 69.48,83.88 72.24,71.80" fill="none" stroke="#33333a" stroke-width="0.5"/><polygon points="83.40,59.28 100.15,67.34 104.28,85.47 92.69,100.00 74.11,100.00 62.52,85.47 66.65,67.34" fill="none" stroke="#33333a" stroke-width="0.5"/><polygon points="83.40,52.14 105.73,62.89 111.24,87.06 95.79,106.43 71.01,106.43 55.56,87.06 61.07,62.89" fill="none" stroke="#33333a" stroke-width="0.5"/><polygon points="83.40,45.00 111.31,58.44 118.20,88.64 98.89,112.86 67.91,112.86 48.60,88.64 55.49,58.44" fill="none" stroke="#33333a" stroke-width="0.5"/><path d="M83.40 80.70 L83.40 45.00" stroke="#33333a" stroke-width="0.5"/><path d="M83.40 80.70 L111.31 58.44" stroke="#33333a" stroke-width="0.5"/><path d="M83.40 80.70 L118.20 88.64" stroke="#33333a" stroke-width="0.5"/><path d="M83.40 80.70 L98.89 112.86" stroke="#33333a" stroke-width="0.5"/><path d="M83.40 80.70 L67.91 112.86" stroke="#33333a" stroke-width="0.5"/><path d="M83.40 80.70 L48.60 88.64" stroke="#33333a" stroke-width="0.5"/><path d="M83.40 80.70 L55.49 58.44" stroke="#33333a" stroke-width="0.5"/>
<polygon points="83.40,52.50 96.80,70.02 93.84,83.08 89.60,93.57 67.91,112.86 76.79,82.21 60.23,62.23" fill="#f0652d" fill-opacity="0.13" stroke="#f0652d" stroke-width="0.8" stroke-linejoin="miter"/>
<polygon points="83.40,72.31 111.31,58.44 104.98,85.63 90.68,95.82 75.50,97.10 55.56,87.06 73.16,72.53" fill="#7a5cff" fill-opacity="0.18" stroke="#7a5cff" stroke-width="0.8" stroke-linejoin="miter"/>
</svg><div class="t" style="top:208px;font-size:5.3px;color:#b0b0b6;left:652.40px;width:120px;text-align:center;">100</div><div class="t" style="top:215px;font-size:5.3px;color:#b0b0b6;left:652.40px;width:120px;text-align:center;">80</div><div class="t" style="top:222px;font-size:5.3px;color:#b0b0b6;left:652.40px;width:120px;text-align:center;">60</div><div class="t" style="top:229px;font-size:5.3px;color:#b0b0b6;left:652.40px;width:120px;text-align:center;">40</div><div class="t" style="top:236px;font-size:5.3px;color:#b0b0b6;left:652.40px;width:120px;text-align:center;">20</div><div class="t" style="top:244px;font-size:5.3px;color:#b0b0b6;left:652.40px;width:120px;text-align:center;">0</div><div class="t" style="top:201px;font-size:4.7px;color:#cfcfd4;left:652.40px;width:120px;text-align:center;">Cardiology</div><div class="t" style="top:219px;font-size:4.7px;color:#cfcfd4;left:694.00px;width:120px;text-align:center;">Pediatrics</div><div class="t" style="top:249px;font-size:4.7px;color:#cfcfd4;left:702.30px;width:120px;text-align:center;">Orthopedic</div><div class="t" style="top:278px;font-size:4.7px;color:#cfcfd4;left:682.50px;width:120px;text-align:center;">Neurology</div><div class="t" style="top:278px;font-size:4.7px;color:#cfcfd4;left:621.90px;width:120px;text-align:center;">Psychiatry</div><div class="t" style="top:249px;font-size:4.7px;color:#cfcfd4;left:602.60px;width:120px;text-align:center;">Radiology</div><div class="t" style="top:219px;font-size:4.7px;color:#cfcfd4;left:613.10px;width:120px;text-align:center;">Others</div><div class="abs" style="left:629.00px;top:295.60px;width:164.00px;height:0.80px;background:#2c2c31;"></div><div class="abs" style="left:629.00px;top:319.80px;width:164.00px;height:0.80px;background:#2c2c31;"></div><svg class="abs" style="left:636.20px;top:303.80px;" width="2.8" height="2.8" viewBox="0 0 2.8 2.8"><circle cx="1.4" cy="1.4" r="1.35" fill="#7a5cff"/></svg><div class="t" style="top:304px;font-size:5.6px;color:#f0f0f2;font-weight:700;left:643.00px;">Male</div><div class="t" style="top:312px;font-size:5.6px;color:#9a9aa0;left:643.00px;">Increased by</div><div class="t" style="top:312px;font-size:5.3px;color:#22c55e;font-weight:700;left:678.60px;">0.64%</div><svg class="abs" style="left:696.00px;top:310.80px;" width="5" height="3.2" viewBox="0 0 5 3.2"><path d="M0.3 2.8 L1.9 1.2 L2.8 2.1 L4.6 0.4 M3.3 0.4 H4.6 V1.7" fill="none" stroke="#22c55e" stroke-width="0.55"/></svg><div class="t" style="top:306px;font-size:7.0px;color:#e4e4e8;font-weight:700;right:12.60px;">1,200</div><svg class="abs" style="left:636.20px;top:328.10px;" width="2.8" height="2.8" viewBox="0 0 2.8 2.8"><circle cx="1.4" cy="1.4" r="1.35" fill="#f0652d"/></svg><div class="t" style="top:328px;font-size:5.6px;color:#f0f0f2;font-weight:700;left:643.00px;">Female</div><div class="t" style="top:336px;font-size:5.6px;color:#9a9aa0;left:643.00px;">Decreased by</div><div class="t" style="top:336px;font-size:5.2px;color:#ef4444;font-weight:700;left:681.50px;">2.75%</div><svg class="abs" style="left:698.60px;top:335.00px;" width="5" height="3.2" viewBox="0 0 5 3.2"><path d="M0.3 0.4 L1.9 2 L2.8 1.1 L4.6 2.8 M3.3 2.8 H4.6 V1.5" fill="none" stroke="#ef4444" stroke-width="0.55"/></svg><div class="t" style="top:330px;font-size:7.0px;color:#e4e4e8;font-weight:700;right:12.60px;">750</div><div class="abs" style="left:108.00px;top:355.20px;width:279.00px;height:191.80px;background:#232327;border-radius:2px;"></div><div class="abs" style="left:108.00px;top:379.70px;width:279.00px;height:0.80px;background:#2c2c31;"></div><div class="t" style="top:365px;font-size:7.84px;color:#e6e6ea;left:115.00px;">Doctors List</div><div class="t" style="top:389px;font-size:5.9px;color:#e2e2e6;font-weight:700;left:115.70px;">Doctor</div><div class="t" style="top:389px;font-size:5.9px;color:#e2e2e6;font-weight:700;left:219.20px;">Qualification</div><div class="t" style="top:389px;font-size:5.9px;color:#e2e2e6;font-weight:700;left:282.70px;">Experience</div><div class="t" style="top:389px;font-size:5.9px;color:#e2e2e6;font-weight:700;left:339.70px;">Actions</div><div class="abs" style="left:108.00px;top:399.00px;width:279.00px;height:0.80px;background:#2c2c31;"></div><svg class="abs" style="left:115.00px;top:405.80px;" width="12" height="12" viewBox="0 0 12 12"><defs><clipPath id="csmith115405"><rect width="12" height="12" rx="6.0"/></clipPath></defs>
<g clip-path="url(#csmith115405)"><rect width="12" height="12" fill="#e9d9d8"/>
<path d="M1.44 12 Q1.7999999999999998 7.4399999999999995 6.0 7.199999999999999 Q10.2 7.4399999999999995 10.56 12Z" fill="#f2f2f4"/>
<ellipse cx="6.0" cy="4.32" rx="1.92" ry="2.2800000000000002" fill="#e0b8a0"/>
<path d="M3.96 3.96 Q4.08 1.6800000000000002 6.0 1.7999999999999998 Q8.040000000000001 1.6800000000000002 8.040000000000001 3.96 Q7.199999999999999 2.64 6.0 2.7600000000000002 Q4.800000000000001 2.64 3.96 3.96Z" fill="#4a3a36"/>
<path d="M6.0 7.4399999999999995 V12" stroke="#9aa0aa" stroke-width="0.4"/></g></svg><div class="t" style="top:406px;font-size:5.5px;color:#ececf0;font-weight:700;left:130.80px;">Dr. Smith</div><div class="t" style="top:414px;font-size:5.9px;color:#9a9aa0;left:130.80px;">Cardiology</div><div class="t" style="top:411px;font-size:5.6px;color:#dcdce0;left:219.20px;">MBBS</div><div class="t" style="top:411px;font-size:5.6px;color:#dcdce0;left:282.70px;">4 yrs Exp</div><div class="abs" style="left:339.40px;top:406.60px;width:11.60px;height:11.20px;background:#2e2950;border-radius:1.2px;"></div><svg class="abs" style="left:339.40px;top:406.60px;" width="11.6" height="11.2" viewBox="0 0 11.6 11.2"><path d="M3.3 5.6 Q5.8 3 8.3 5.6 Q5.8 8.2 3.3 5.6Z" fill="#7a5cff"/><circle cx="5.8" cy="5.6" r="0.7" fill="#2e2950"/></svg><div class="abs" style="left:355.50px;top:406.60px;width:11.60px;height:11.20px;background:#1f3a2b;border-radius:1.2px;"></div><svg class="abs" style="left:355.50px;top:406.60px;" width="11.6" height="11.2" viewBox="0 0 11.6 11.2"><path d="M4.2 7.4 L7.4 4.2" stroke="#22c55e" stroke-width="1.3" stroke-linecap="round"/><path d="M3.6 8 L4.1 7.5" stroke="#22c55e" stroke-width="0.8"/></svg><div class="abs" style="left:108.00px;top:423.62px;width:279.00px;height:0.80px;background:#2c2c31;"></div><svg class="abs" style="left:115.00px;top:430.42px;" width="12" height="12" viewBox="0 0 12 12"><defs><clipPath id="cjohnson115430"><rect width="12" height="12" rx="6.0"/></clipPath></defs>
<g clip-path="url(#cjohnson115430)"><rect width="12" height="12" fill="#cfd8d4"/>
<path d="M1.44 12 Q1.7999999999999998 7.4399999999999995 6.0 7.199999999999999 Q10.2 7.4399999999999995 10.56 12Z" fill="#f4f4f6"/>
<ellipse cx="6.0" cy="4.32" rx="1.92" ry="2.2800000000000002" fill="#e6bda3"/>
<path d="M3.96 3.96 Q4.08 1.6800000000000002 6.0 1.7999999999999998 Q8.040000000000001 1.6800000000000002 8.040000000000001 3.96 Q7.199999999999999 2.64 6.0 2.7600000000000002 Q4.800000000000001 2.64 3.96 3.96Z" fill="#3b3330"/>
<path d="M6.0 7.4399999999999995 V12" stroke="#9aa0aa" stroke-width="0.4"/></g></svg><div class="t" style="top:431px;font-size:5.5px;color:#ececf0;font-weight:700;left:130.80px;">Dr. Johnson</div><div class="t" style="top:438px;font-size:5.9px;color:#9a9aa0;left:130.80px;">Orthopedics</div><div class="t" style="top:435px;font-size:5.6px;color:#dcdce0;left:219.20px;">MBBS, MD</div><div class="t" style="top:435px;font-size:5.6px;color:#dcdce0;left:282.70px;">6 yrs Exp</div><div class="abs" style="left:339.40px;top:431.22px;width:11.60px;height:11.20px;background:#2e2950;border-radius:1.2px;"></div><svg class="abs" style="left:339.40px;top:431.22px;" width="11.6" height="11.2" viewBox="0 0 11.6 11.2"><path d="M3.3 5.6 Q5.8 3 8.3 5.6 Q5.8 8.2 3.3 5.6Z" fill="#7a5cff"/><circle cx="5.8" cy="5.6" r="0.7" fill="#2e2950"/></svg><div class="abs" style="left:355.50px;top:431.22px;width:11.60px;height:11.20px;background:#1f3a2b;border-radius:1.2px;"></div><svg class="abs" style="left:355.50px;top:431.22px;" width="11.6" height="11.2" viewBox="0 0 11.6 11.2"><path d="M4.2 7.4 L7.4 4.2" stroke="#22c55e" stroke-width="1.3" stroke-linecap="round"/><path d="M3.6 8 L4.1 7.5" stroke="#22c55e" stroke-width="0.8"/></svg><div class="abs" style="left:108.00px;top:448.24px;width:279.00px;height:0.80px;background:#2c2c31;"></div><svg class="abs" style="left:115.00px;top:455.04px;" width="12" height="12" viewBox="0 0 12 12"><defs><clipPath id="cdavis115455"><rect width="12" height="12" rx="6.0"/></clipPath></defs>
<g clip-path="url(#cdavis115455)"><rect width="12" height="12" fill="#e8eaee"/>
<path d="M1.44 12 Q1.7999999999999998 7.4399999999999995 6.0 7.199999999999999 Q10.2 7.4399999999999995 10.56 12Z" fill="#f5f5f7"/>
<ellipse cx="6.0" cy="4.32" rx="1.92" ry="2.2800000000000002" fill="#c98c6c"/>
<path d="M3.96 3.96 Q4.08 1.6800000000000002 6.0 1.7999999999999998 Q8.040000000000001 1.6800000000000002 8.040000000000001 3.96 Q7.199999999999999 2.64 6.0 2.7600000000000002 Q4.800000000000001 2.64 3.96 3.96Z" fill="#1d1d24"/>
<path d="M6.0 7.4399999999999995 V12" stroke="#9aa0aa" stroke-width="0.4"/><path d="M5.2 7.2 H6.8 L6.4 12 H5.6Z" fill="#3a6ea8"/><path d="M4.3 5.2 Q6 7.4 7.7 5.2 L7.6 6.4 Q6 7.6 4.4 6.4Z" fill="#2a2020"/></g></svg><div class="t" style="top:456px;font-size:5.5px;color:#ececf0;font-weight:700;left:130.80px;">Dr.L.Rickie Smtih</div><div class="t" style="top:463px;font-size:5.9px;color:#9a9aa0;left:130.80px;">Orthopedics</div><div class="t" style="top:460px;font-size:5.6px;color:#dcdce0;left:219.20px;">DO</div><div class="t" style="top:460px;font-size:5.6px;color:#dcdce0;left:282.70px;">6 yrs Exp</div><div class="abs" style="left:339.40px;top:455.84px;width:11.60px;height:11.20px;background:#2e2950;border-radius:1.2px;"></div><svg class="abs" style="left:339.40px;top:455.84px;" width="11.6" height="11.2" viewBox="0 0 11.6 11.2"><path d="M3.3 5.6 Q5.8 3 8.3 5.6 Q5.8 8.2 3.3 5.6Z" fill="#7a5cff"/><circle cx="5.8" cy="5.6" r="0.7" fill="#2e2950"/></svg><div class="abs" style="left:355.50px;top:455.84px;width:11.60px;height:11.20px;background:#1f3a2b;border-radius:1.2px;"></div><svg class="abs" style="left:355.50px;top:455.84px;" width="11.6" height="11.2" viewBox="0 0 11.6 11.2"><path d="M4.2 7.4 L7.4 4.2" stroke="#22c55e" stroke-width="1.3" stroke-linecap="round"/><path d="M3.6 8 L4.1 7.5" stroke="#22c55e" stroke-width="0.8"/></svg><div class="abs" style="left:108.00px;top:472.86px;width:279.00px;height:0.80px;background:#2c2c31;"></div><svg class="abs" style="left:115.00px;top:479.66px;" width="12" height="12" viewBox="0 0 12 12"><defs><clipPath id="cmiller115479"><rect width="12" height="12" rx="6.0"/></clipPath></defs>
<g clip-path="url(#cmiller115479)"><rect width="12" height="12" fill="#f2f2f2"/>
<path d="M1.44 12 Q1.7999999999999998 7.4399999999999995 6.0 7.199999999999999 Q10.2 7.4399999999999995 10.56 12Z" fill="#1ba3a8"/>
<ellipse cx="6.0" cy="4.32" rx="1.92" ry="2.2800000000000002" fill="#b07a5a"/>
<path d="M3.96 3.96 Q4.08 1.6800000000000002 6.0 1.7999999999999998 Q8.040000000000001 1.6800000000000002 8.040000000000001 3.96 Q7.199999999999999 2.64 6.0 2.7600000000000002 Q4.800000000000001 2.64 3.96 3.96Z" fill="#121216"/>
<path d="M6.0 7.4399999999999995 V12" stroke="#9aa0aa" stroke-width="0.4"/><path d="M3.6 4.6 Q3.4 1.6 6 1.6 Q8.6 1.6 8.4 4.6 L8.8 8.2 L7.6 7.6 L7.4 4.2 Q6 3.2 4.6 4.2 L4.4 7.6 L3.2 8.2Z" fill="#141014"/><path d="M2.2 12 Q2.4 8 6 7.8 Q9.6 8 9.8 12Z" fill="#1aa0a6"/></g></svg><div class="t" style="top:480px;font-size:5.5px;color:#ececf0;font-weight:700;left:130.80px;">Dr.M.Angle</div><div class="t" style="top:488px;font-size:5.9px;color:#9a9aa0;left:130.80px;">Gynecologist</div><div class="t" style="top:485px;font-size:5.6px;color:#dcdce0;left:219.20px;">MBBS, Ph.D</div><div class="t" style="top:485px;font-size:5.6px;color:#dcdce0;left:282.70px;">10 yrs Exp</div><div class="abs" style="left:339.40px;top:480.46px;width:11.60px;height:11.20px;background:#2e2950;border-radius:1.2px;"></div><svg class="abs" style="left:339.40px;top:480.46px;" width="11.6" height="11.2" viewBox="0 0 11.6 11.2"><path d="M3.3 5.6 Q5.8 3 8.3 5.6 Q5.8 8.2 3.3 5.6Z" fill="#7a5cff"/><circle cx="5.8" cy="5.6" r="0.7" fill="#2e2950"/></svg><div class="abs" style="left:355.50px;top:480.46px;width:11.60px;height:11.20px;background:#1f3a2b;border-radius:1.2px;"></div><svg class="abs" style="left:355.50px;top:480.46px;" width="11.6" height="11.2" viewBox="0 0 11.6 11.2"><path d="M4.2 7.4 L7.4 4.2" stroke="#22c55e" stroke-width="1.3" stroke-linecap="round"/><path d="M3.6 8 L4.1 7.5" stroke="#22c55e" stroke-width="0.8"/></svg><div class="abs" style="left:108.00px;top:497.48px;width:279.00px;height:0.80px;background:#2c2c31;"></div><svg class="abs" style="left:115.00px;top:504.28px;" width="12" height="12" viewBox="0 0 12 12"><defs><clipPath id="canderson115504"><rect width="12" height="12" rx="6.0"/></clipPath></defs>
<g clip-path="url(#canderson115504)"><rect width="12" height="12" fill="#e0507a"/>
<path d="M1.44 12 Q1.7999999999999998 7.4399999999999995 6.0 7.199999999999999 Q10.2 7.4399999999999995 10.56 12Z" fill="#f4eef0"/>
<ellipse cx="6.0" cy="4.32" rx="1.92" ry="2.2800000000000002" fill="#f0c0a8"/>
<path d="M3.96 3.96 Q4.08 1.6800000000000002 6.0 1.7999999999999998 Q8.040000000000001 1.6800000000000002 8.040000000000001 3.96 Q7.199999999999999 2.64 6.0 2.7600000000000002 Q4.800000000000001 2.64 3.96 3.96Z" fill="#6a3a2a"/>
<path d="M6.0 7.4399999999999995 V12" stroke="#9aa0aa" stroke-width="0.4"/><path d="M3.8 4.8 Q3.6 1.8 6 1.8 Q8.4 1.8 8.2 4.8 L8.3 6.2 L7.5 5.8 L7.4 4.2 Q6 3.4 4.6 4.2 L4.5 5.8 L3.7 6.2Z" fill="#c08860"/></g></svg><div class="t" style="top:505px;font-size:5.5px;color:#ececf0;font-weight:700;left:130.80px;">Dr.S.Mary</div><div class="t" style="top:512px;font-size:5.9px;color:#9a9aa0;left:130.80px;">Neurosurgeon</div><div class="t" style="top:509px;font-size:5.6px;color:#dcdce0;left:219.20px;">MBBS, MD</div><div class="t" style="top:509px;font-size:5.6px;color:#dcdce0;left:282.70px;">3 yrs Exp</div><div class="abs" style="left:339.40px;top:505.08px;width:11.60px;height:11.20px;background:#2e2950;border-radius:1.2px;"></div><svg class="abs" style="left:339.40px;top:505.08px;" width="11.6" height="11.2" viewBox="0 0 11.6 11.2"><path d="M3.3 5.6 Q5.8 3 8.3 5.6 Q5.8 8.2 3.3 5.6Z" fill="#7a5cff"/><circle cx="5.8" cy="5.6" r="0.7" fill="#2e2950"/></svg><div class="abs" style="left:355.50px;top:505.08px;width:11.60px;height:11.20px;background:#1f3a2b;border-radius:1.2px;"></div><svg class="abs" style="left:355.50px;top:505.08px;" width="11.6" height="11.2" viewBox="0 0 11.6 11.2"><path d="M4.2 7.4 L7.4 4.2" stroke="#22c55e" stroke-width="1.3" stroke-linecap="round"/><path d="M3.6 8 L4.1 7.5" stroke="#22c55e" stroke-width="0.8"/></svg><div class="abs" style="left:108.00px;top:522.10px;width:279.00px;height:0.80px;background:#2c2c31;"></div><svg class="abs" style="left:115.00px;top:528.90px;" width="12" height="12" viewBox="0 0 12 12"><defs><clipPath id="cmartinez115528"><rect width="12" height="12" rx="6.0"/></clipPath></defs>
<g clip-path="url(#cmartinez115528)"><rect width="12" height="12" fill="#8a4a2a"/>
<path d="M1.44 12 Q1.7999999999999998 7.4399999999999995 6.0 7.199999999999999 Q10.2 7.4399999999999995 10.56 12Z" fill="#f0f0f2"/>
<ellipse cx="6.0" cy="4.32" rx="1.92" ry="2.2800000000000002" fill="#d8a080"/>
<path d="M3.96 3.96 Q4.08 1.6800000000000002 6.0 1.7999999999999998 Q8.040000000000001 1.6800000000000002 8.040000000000001 3.96 Q7.199999999999999 2.64 6.0 2.7600000000000002 Q4.800000000000001 2.64 3.96 3.96Z" fill="#5a3020"/>
<path d="M6.0 7.4399999999999995 V12" stroke="#9aa0aa" stroke-width="0.4"/></g></svg><div class="t" style="top:529px;font-size:5.5px;color:#ececf0;font-weight:700;left:130.80px;">Dr.T.Laytoya Thoma</div><div class="t" style="top:537px;font-size:5.9px;color:#9a9aa0;left:130.80px;">Dermatologists</div><div class="t" style="top:534px;font-size:5.6px;color:#dcdce0;left:219.20px;">MD-PhD</div><div class="t" style="top:534px;font-size:5.6px;color:#dcdce0;left:282.70px;">5 yrs Exp</div><div class="abs" style="left:339.40px;top:529.70px;width:11.60px;height:11.20px;background:#2e2950;border-radius:1.2px;"></div><svg class="abs" style="left:339.40px;top:529.70px;" width="11.6" height="11.2" viewBox="0 0 11.6 11.2"><path d="M3.3 5.6 Q5.8 3 8.3 5.6 Q5.8 8.2 3.3 5.6Z" fill="#7a5cff"/><circle cx="5.8" cy="5.6" r="0.7" fill="#2e2950"/></svg><div class="abs" style="left:355.50px;top:529.70px;width:11.60px;height:11.20px;background:#1f3a2b;border-radius:1.2px;"></div><svg class="abs" style="left:355.50px;top:529.70px;" width="11.6" height="11.2" viewBox="0 0 11.6 11.2"><path d="M4.2 7.4 L7.4 4.2" stroke="#22c55e" stroke-width="1.3" stroke-linecap="round"/><path d="M3.6 8 L4.1 7.5" stroke="#22c55e" stroke-width="0.8"/></svg><div class="abs" style="left:397.20px;top:355.30px;width:164.00px;height:191.80px;background:#232327;border-radius:2px;"></div><div class="abs" style="left:397.20px;top:380.40px;width:164.00px;height:0.80px;background:#2c2c31;"></div><div class="t" style="top:365px;font-size:8.0px;color:#e6e6ea;left:404.70px;">Top Departments</div><div class="abs" style="left:446.00px;top:400.00px;width:0.60px;height:118.80px;background:#4a4a50;"></div><div class="abs" style="left:446.60px;top:404.50px;width:51.90px;height:10.00px;background:#7a5cff;border-radius:0 1.6px 1.6px 0;"></div><div class="t" style="top:408px;font-size:5.9px;color:#d0d0d5;right:356.30px;">Dermatologists</div><div class="abs" style="left:446.60px;top:424.45px;width:55.65px;height:10.00px;background:#7a5cff;border-radius:0 1.6px 1.6px 0;"></div><div class="t" style="top:428px;font-size:5.9px;color:#d0d0d5;right:356.30px;">Cardiologist</div><div class="abs" style="left:446.60px;top:444.40px;width:60.90px;height:10.00px;background:#7a5cff;border-radius:0 1.6px 1.6px 0;"></div><div class="t" style="top:448px;font-size:5.9px;color:#d0d0d5;right:356.30px;">Gynecologist</div><div class="abs" style="left:446.60px;top:464.35px;width:69.90px;height:10.00px;background:#7a5cff;border-radius:0 1.6px 1.6px 0;"></div><div class="t" style="top:468px;font-size:5.9px;color:#d0d0d5;right:356.30px;">Dentist</div><div class="abs" style="left:446.60px;top:484.30px;width:77.90px;height:10.00px;background:#7a5cff;border-radius:0 1.6px 1.6px 0;"></div><div class="t" style="top:488px;font-size:5.9px;color:#d0d0d5;right:356.30px;">Neurosurgeon</div><div class="abs" style="left:446.60px;top:504.25px;width:103.65px;height:10.00px;background:#7a5cff;border-radius:0 1.6px 1.6px 0;"></div><div class="t" style="top:508px;font-size:5.9px;color:#d0d0d5;right:356.30px;">Orthopedic</div><div class="t" style="top:526px;font-size:5.2px;color:#c4c4ca;left:386.25px;width:120px;text-align:center;">0</div><div class="t" style="top:526px;font-size:5.2px;color:#c4c4ca;left:399.22px;width:120px;text-align:center;">100</div><div class="t" style="top:526px;font-size:5.2px;color:#c4c4ca;left:412.19px;width:120px;text-align:center;">200</div><div class="t" style="top:526px;font-size:5.2px;color:#c4c4ca;left:425.16px;width:120px;text-align:center;">300</div><div class="t" style="top:526px;font-size:5.2px;color:#c4c4ca;left:438.13px;width:120px;text-align:center;">400</div><div class="t" style="top:526px;font-size:5.2px;color:#c4c4ca;left:451.10px;width:120px;text-align:center;">500</div><div class="t" style="top:526px;font-size:5.2px;color:#c4c4ca;left:464.06px;width:120px;text-align:center;">600</div><div class="t" style="top:526px;font-size:5.2px;color:#c4c4ca;left:477.03px;width:120px;text-align:center;">700</div><div class="t" style="top:526px;font-size:5.2px;color:#c4c4ca;left:490.00px;width:120px;text-align:center;">800</div><div class="abs" style="left:571.30px;top:355.00px;width:221.70px;height:192.10px;background:#232327;border-radius:2px;"></div><div class="abs" style="left:571.30px;top:380.10px;width:221.70px;height:0.80px;background:#2c2c31;"></div><div class="t" style="top:365px;font-size:8.0px;color:#e6e6ea;left:578.20px;">Upcoming Appointments</div><div class="abs" style="left:578.20px;top:387.20px;width:26.60px;height:24.30px;background:#1b1b1e;border-radius:1.5px;"></div><div class="t" style="top:395px;font-size:5.7px;color:#e0e0e4;left:531.50px;width:120px;text-align:center;">25</div><div class="t" style="top:403px;font-size:5.9px;color:#e6e6ea;font-weight:700;left:531.50px;width:120px;text-align:center;">Mon</div><div class="abs" style="left:614.20px;top:387.20px;width:26.60px;height:24.30px;background:#1b1b1e;border-radius:1.5px;"></div><div class="t" style="top:395px;font-size:5.7px;color:#e0e0e4;left:567.50px;width:120px;text-align:center;">26</div><div class="t" style="top:403px;font-size:5.9px;color:#e6e6ea;font-weight:700;left:567.50px;width:120px;text-align:center;">Tue</div><div class="abs" style="left:650.10px;top:387.20px;width:26.60px;height:24.30px;background:#7a5cff;border-radius:1.5px;"></div><div class="t" style="top:395px;font-size:5.7px;color:#ffffff;left:603.40px;width:120px;text-align:center;">27</div><div class="t" style="top:403px;font-size:5.9px;color:#ffffff;font-weight:700;left:603.40px;width:120px;text-align:center;">Wed</div><div class="abs" style="left:687.00px;top:387.20px;width:26.60px;height:24.30px;background:#1b1b1e;border-radius:1.5px;"></div><div class="t" style="top:395px;font-size:5.7px;color:#e0e0e4;left:640.30px;width:120px;text-align:center;">28</div><div class="t" style="top:403px;font-size:5.9px;color:#e6e6ea;font-weight:700;left:640.30px;width:120px;text-align:center;">Thu</div><div class="abs" style="left:723.20px;top:387.20px;width:26.60px;height:24.30px;background:#1b1b1e;border-radius:1.5px;"></div><div class="t" style="top:395px;font-size:5.7px;color:#e0e0e4;left:676.50px;width:120px;text-align:center;">29</div><div class="t" style="top:403px;font-size:5.9px;color:#e6e6ea;font-weight:700;left:676.50px;width:120px;text-align:center;">Fri</div><div class="abs" style="left:759.20px;top:387.20px;width:26.60px;height:24.30px;background:#1b1b1e;border-radius:1.5px;"></div><div class="t" style="top:395px;font-size:5.7px;color:#e0e0e4;left:712.50px;width:120px;text-align:center;">30</div><div class="t" style="top:403px;font-size:5.9px;color:#e6e6ea;font-weight:700;left:712.50px;width:120px;text-align:center;">Sat</div><div class="abs" style="left:577.80px;top:421.70px;width:2.00px;height:16.50px;background:#7a5cff;border-radius:1px;"></div><div class="t" style="top:424px;font-size:5.57px;color:#ededf0;font-weight:700;left:586.20px;">Digestive Disorder Consult</div><div class="t" style="top:432px;font-size:6.1px;color:#9a9aa0;left:586.20px;">Gastroenterology</div><div class="t" style="top:426px;font-size:5.4px;color:#a6a6ac;right:13.90px;"><svg style="position:absolute;left:-8.2px;top:-1.0px" width="6.4" height="6.4" viewBox="0 0 6.4 6.4"><circle cx="3.2" cy="3.2" r="2.7" fill="none" stroke="#a6a6ac" stroke-width="0.65"/><path d="M3.2 1.7 V3.3 L4.3 4.2" fill="none" stroke="#a6a6ac" stroke-width="0.6"/></svg>10:00&nbsp; - &nbsp;12:00</div><div class="abs" style="left:577.80px;top:447.45px;width:2.00px;height:16.50px;background:#f0652d;border-radius:1px;"></div><div class="t" style="top:450px;font-size:5.57px;color:#ededf0;font-weight:700;left:586.20px;">Pre-operative Assessment</div><div class="t" style="top:458px;font-size:6.1px;color:#9a9aa0;left:586.20px;">Surgery</div><div class="t" style="top:451px;font-size:5.4px;color:#a6a6ac;right:13.90px;"><svg style="position:absolute;left:-8.2px;top:-1.0px" width="6.4" height="6.4" viewBox="0 0 6.4 6.4"><circle cx="3.2" cy="3.2" r="2.7" fill="none" stroke="#a6a6ac" stroke-width="0.65"/><path d="M3.2 1.7 V3.3 L4.3 4.2" fill="none" stroke="#a6a6ac" stroke-width="0.6"/></svg>13:15&nbsp; - &nbsp;14:10</div><div class="abs" style="left:577.80px;top:473.20px;width:2.00px;height:16.50px;background:#22c55e;border-radius:1px;"></div><div class="t" style="top:476px;font-size:5.57px;color:#ededf0;font-weight:700;left:586.20px;">Cancer Screening</div><div class="t" style="top:484px;font-size:6.1px;color:#9a9aa0;left:586.20px;">Oncology</div><div class="t" style="top:477px;font-size:5.4px;color:#a6a6ac;right:13.90px;"><svg style="position:absolute;left:-8.2px;top:-1.0px" width="6.4" height="6.4" viewBox="0 0 6.4 6.4"><circle cx="3.2" cy="3.2" r="2.7" fill="none" stroke="#a6a6ac" stroke-width="0.65"/><path d="M3.2 1.7 V3.3 L4.3 4.2" fill="none" stroke="#a6a6ac" stroke-width="0.6"/></svg>15:30&nbsp; - &nbsp;16:20</div><div class="abs" style="left:577.80px;top:498.95px;width:2.00px;height:16.50px;background:#2f9cf2;border-radius:1px;"></div><div class="t" style="top:502px;font-size:5.57px;color:#ededf0;font-weight:700;left:586.20px;">Hypertension Management</div><div class="t" style="top:510px;font-size:6.1px;color:#9a9aa0;left:586.20px;">Cardiology</div><div class="t" style="top:503px;font-size:5.4px;color:#a6a6ac;right:13.90px;"><svg style="position:absolute;left:-8.2px;top:-1.0px" width="6.4" height="6.4" viewBox="0 0 6.4 6.4"><circle cx="3.2" cy="3.2" r="2.7" fill="none" stroke="#a6a6ac" stroke-width="0.65"/><path d="M3.2 1.7 V3.3 L4.3 4.2" fill="none" stroke="#a6a6ac" stroke-width="0.6"/></svg>17:30&nbsp; - &nbsp;18:00</div><div class="abs" style="left:577.80px;top:524.70px;width:2.00px;height:16.50px;background:#f3a323;border-radius:1px;"></div><div class="t" style="top:527px;font-size:5.57px;color:#ededf0;font-weight:700;left:586.20px;">Routine Immunization</div><div class="t" style="top:535px;font-size:6.1px;color:#9a9aa0;left:586.20px;">Vaccination</div><div class="t" style="top:529px;font-size:5.4px;color:#a6a6ac;right:13.90px;"><svg style="position:absolute;left:-8.2px;top:-1.0px" width="6.4" height="6.4" viewBox="0 0 6.4 6.4"><circle cx="3.2" cy="3.2" r="2.7" fill="none" stroke="#a6a6ac" stroke-width="0.65"/><path d="M3.2 1.7 V3.3 L4.3 4.2" fill="none" stroke="#a6a6ac" stroke-width="0.6"/></svg>16:55&nbsp; - &nbsp;18:55</div><div class="abs" style="left:108.00px;top:557.60px;width:685.00px;height:60.00px;background:#232327;border-radius:2px;"></div><div class="abs" style="left:108.00px;top:585.90px;width:685.00px;height:0.80px;background:#2c2c31;"></div><div class="t" style="top:569px;font-size:7.9px;color:#e6e6ea;left:114.60px;">Patients List</div><div class="abs" style="left:680.00px;top:564.00px;width:69.60px;height:15.60px;background:#232327;border-radius:1.5px;border:0.8px solid #34343a;"></div><div class="t" style="top:571px;font-size:5.5px;color:#8b8b92;left:685.60px;">Search Here</div><div class="abs" style="left:753.00px;top:564.00px;width:33.00px;height:13.00px;background:#7a5cff;border-radius:1.5px;"></div><div class="t" style="top:569px;font-size:5.5px;color:#ffffff;font-weight:700;left:756.60px;">Sort By</div><svg class="abs" style="left:778.30px;top:569.60px;" width="3" height="2.2" viewBox="0 0 3 2.2"><path d="M0.4 0.4 L1.5 1.6 L2.6 0.4" fill="none" stroke="#fff" stroke-width="0.55"/></svg><div class="t" style="top:595px;font-size:5.8px;color:#e2e2e6;font-weight:700;left:118.60px;">S.No</div><div class="t" style="top:595px;font-size:5.8px;color:#e2e2e6;font-weight:700;left:150.40px;">Patient ID</div><div class="t" style="top:595px;font-size:5.8px;color:#e2e2e6;font-weight:700;left:203.60px;">Name</div><div class="t" style="top:595px;font-size:5.8px;color:#e2e2e6;font-weight:700;left:291.20px;">Gender</div><div class="t" style="top:595px;font-size:5.8px;color:#e2e2e6;font-weight:700;left:336.20px;">Age</div><div class="t" style="top:595px;font-size:5.8px;color:#e2e2e6;font-weight:700;left:368.20px;">Assgined Doctor</div><div class="t" style="top:595px;font-size:5.8px;color:#e2e2e6;font-weight:700;left:452.20px;">Contact Number</div><div class="t" style="top:595px;font-size:5.8px;color:#e2e2e6;font-weight:700;left:530.00px;">Appointmented Date</div><div class="t" style="top:595px;font-size:5.8px;color:#e2e2e6;font-weight:700;left:622.80px;">Disease</div><div class="t" style="top:595px;font-size:5.8px;color:#e2e2e6;font-weight:700;left:693.00px;">Room No</div><div class="t" style="top:595px;font-size:5.8px;color:#e2e2e6;font-weight:700;left:745.00px;">Action</div>
</body></html>
